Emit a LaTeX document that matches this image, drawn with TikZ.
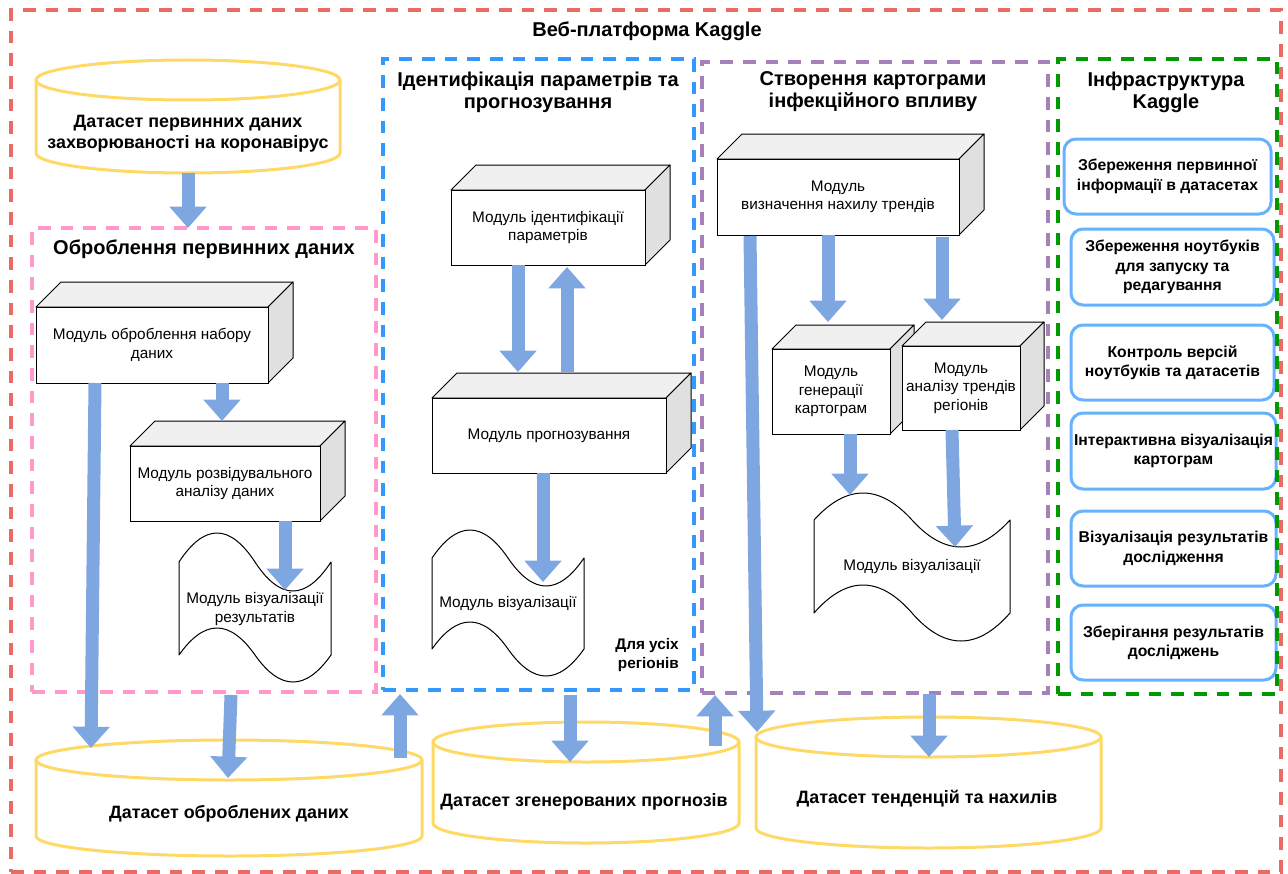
\documentclass[tikz,border=0pt]{standalone}
\usepackage{fontspec}
\setmainfont{Liberation Sans}
\usetikzlibrary{arrows.meta,calc}
\definecolor{redd}{HTML}{EA6B66}
\definecolor{pinkd}{HTML}{FF99CC}
\definecolor{blued}{HTML}{3399FF}
\definecolor{purpled}{HTML}{A680B8}
\definecolor{greend}{HTML}{009900}
\definecolor{yellowc}{HTML}{FFD966}
\definecolor{arrowc}{HTML}{7EA6E0}
\definecolor{boxb}{HTML}{66B2FF}
\definecolor{cubetop}{HTML}{F0F0F0}
\definecolor{cubeside}{HTML}{E0E0E0}

\newcommand{\dashedbox}[6]{%
  \node[dbox, draw=#2, minimum width={(#5-#3)*0.75pt}, minimum height={(#6-#4)*0.75pt}] (#1) at ({(#3+#5)/2},{(#4+#6)/2}) {};}
\newcommand{\cubemod}[7]{%
  \filldraw[cubeface, fill=cubetop] (#2,#3) -- ({#2+#6},{#3-#6}) -- ({#4+#6},{#3-#6}) -- (#4,#3) -- cycle;
  \filldraw[cubeface, fill=cubeside] (#4,#3) -- ({#4+#6},{#3-#6}) -- ({#4+#6},{#5-#6}) -- (#4,#5) -- cycle;
  \node[modbox, minimum width={(#4-#2)*0.75pt}, minimum height={(#5-#3)*0.75pt}] (#1) at ({(#2+#4)/2},{(#3+#5)/2}) {#7};}
\newcommand{\cylmod}[6]{% name, L, R, cyTop, cyBot, ry
  \pgfmathsetmacro\cyCx{(#2+#3)/2}\pgfmathsetmacro\cyRx{(#3-#2)/2}
  \fill[white] (#2,#4) -- (#2,#5) arc[start angle=180,end angle=0,x radius=\cyRx,y radius=#6] -- (#3,#4) -- cycle;
  \draw[cylst] (#2,#4) -- (#2,#5) arc[start angle=180,end angle=0,x radius=\cyRx,y radius=#6] -- (#3,#4);
  \filldraw[cylst, fill=white] (\cyCx,#4) ellipse[x radius=\cyRx, y radius=#6];
  \node[inner sep=0, outer sep=0, minimum width={(#3-#2)*0.75pt}, minimum height={(#5-#4+2*#6)*0.75pt}] (#1) at (\cyCx,{(#4+#5)/2}) {};}
\newcommand{\tapemod}[7]{% name, L, R, yt, At, yb, Ab
  \pgfmathsetmacro\tpW{#3-#2}
  \pgfmathsetmacro\tpXa{#2+\tpW/6}\pgfmathsetmacro\tpXb{#2+\tpW/3}
  \pgfmathsetmacro\tpXm{#2+\tpW/2}\pgfmathsetmacro\tpXc{#2+2*\tpW/3}
  \pgfmathsetmacro\tpXd{#2+5*\tpW/6}
  \pgfmathsetmacro\tpYa{#4-4*#5/3}\pgfmathsetmacro\tpYb{#4+4*#5/3}
  \pgfmathsetmacro\tpYc{#6-4*#7/3}\pgfmathsetmacro\tpYd{#6+4*#7/3}
  \filldraw[cubeface, fill=white] (#2,#4) .. controls (\tpXa,\tpYa) and (\tpXb,\tpYa) .. (\tpXm,#4) .. controls (\tpXc,\tpYb) and (\tpXd,\tpYb) .. (#3,#4) -- (#3,#6) .. controls (\tpXd,\tpYd) and (\tpXc,\tpYd) .. (\tpXm,#6) .. controls (\tpXb,\tpYc) and (\tpXa,\tpYc) .. (#2,#6) -- cycle;
  \node[inner sep=0, outer sep=0, minimum width={(#3-#2)*0.75pt}, minimum height={(#6+#7-#4+#5)*0.75pt}] (#1) at (\tpXm,{(#4-#5+#6+#7)/2}) {};}

\begin{document}
\begin{tikzpicture}[x=0.75pt,y=-0.75pt,
  dbox/.style={line width=2.4pt, dash pattern=on 9.5pt off 7.5pt, inner sep=0, outer sep=0},
  cubeface/.style={draw=black, line width=0.75pt, line join=round},
  modtext/.style={font=\fontsize{11.5}{13.75}\selectfont, align=center, inner sep=0},
  modbox/.style={modtext, draw=black, fill=white, line width=0.75pt, outer sep=0},
  cylst/.style={draw=yellowc, line width=2.25pt},
  cyltext/.style={font=\bfseries\fontsize{13.4}{15.75}\selectfont, align=center, inner sep=0},
  ttltext/.style={font=\bfseries\fontsize{15}{16.5}\selectfont, align=center, inner sep=0},
  kbox/.style={draw=boxb, line width=2.25pt, rounded corners=9pt, fill=white, align=center,
     font=\bfseries\fontsize{11.8}{14.5}\selectfont, inner sep=0, outer sep=0},
  barrow/.style={draw=arrowc, line width=9.75pt, -{Triangle[width=27pt,length=16pt]}}]
\useasboundingbox (0,0) rectangle (1288,874);

% outer platform frame
\dashedbox{web}{redd}{11}{10}{1281}{872}

% cylinders
\cylmod{dsPrimB}{36}{340}{80}{153}{20}
\cylmod{dsProcB}{36}{422}{760}{836}{20}
\cylmod{dsForeB}{433}{739}{742}{823}{20}
\cylmod{dsTrendB}{756}{1101}{737}{828}{20}

% section frames
\dashedbox{boxProc}{pinkd}{32}{228}{376}{692}
\dashedbox{boxIdent}{blued}{383}{59}{694}{690}
\dashedbox{boxTrend}{purpled}{702}{62}{1048}{693}

% Kaggle infrastructure boxes
\node[kbox, minimum width={207*0.75pt}, minimum height={75*0.75pt}] (k1) at (1167.5,176.5) {Збереження первинної\\інформації в датасетах};
\node[kbox, minimum width={203*0.75pt}, minimum height={76*0.75pt}] (k2) at (1172.5,267) {Збереження ноутбуків\\для запуску та\\редагування};
\node[kbox, minimum width={203*0.75pt}, minimum height={75*0.75pt}] (k3) at (1172.5,362.5) {Контроль версій\\ноутбуків та датасетів};
\node[kbox, minimum width={205*0.75pt}, minimum height={76*0.75pt}] (k4) at (1173.5,451) {Інтерактивна візуалізація\\картограм};
\node[kbox, minimum width={205*0.75pt}, minimum height={75*0.75pt}] (k5) at (1173.5,548.5) {Візуалізація результатів\\дослідження};
\node[kbox, minimum width={205*0.75pt}, minimum height={75*0.75pt}] (k6) at (1173.5,642.5) {Зберігання результатів\\досліджень};
\dashedbox{boxInfra}{greend}{1058}{59}{1277}{694}

% modules
\cubemod{c1}{36}{307}{268}{383}{25}{Модуль оброблення набору\\даних}
\cubemod{c2}{130}{446}{320}{521}{25}{Модуль розвідувального\\аналізу даних}
\tapemod{vis1}{179}{331}{562}{29}{655}{27}
\cubemod{c3}{451}{190}{645}{265}{25}{Модуль ідентифікації\\параметрів}
\cubemod{c4}{432}{398}{666}{473}{25}{Модуль прогнозування}
\tapemod{vis2}{432}{584}{558}{28}{649}{27}
\cubemod{c5}{717}{159}{959}{235}{25}{Модуль\\визначення нахилу трендів}
\cubemod{c6}{772}{349}{890}{434}{24}{Модуль\\генерації\\картограм}
\cubemod{c7}{902}{346}{1020}{430}{24}{Модуль\\аналізу трендів\\регіонів}
\tapemod{vis3}{814}{1010}{520}{27}{613}{28}

% texts
\node[ttltext] (ttl) at (647,31) {Веб-платформа Kaggle};
\node[ttltext] (tProc) at (204,249) {Оброблення первинних даних};
\node[ttltext] (tIdent) at (538,92) {Ідентифікація параметрів та\\прогнозування};
\node[ttltext] (tTrend) at (873,92) {Створення картограми\\інфекційного впливу};
\node[ttltext] (tInfra) at (1166,92) {Інфраструктура\\Kaggle};
\node[cyltext] (dsPrim) at (188,133.5) {Датасет первинних даних\\захворюваності на коронавірус};
\node[cyltext] (dsProc) at (229,814) {Датасет оброблених даних};
\node[cyltext] (dsFore) at (584,802) {Датасет згенерованих прогнозів};
\node[cyltext] (dsTrend) at (927,799) {Датасет тенденцій та нахилів};
\node[modtext] (vis1t) at (255,609) {Модуль візуалізації\\результатів};
\node[modtext] (vis2t) at (508,604) {Модуль візуалізації};
\node[modtext] (vis3t) at (912,567) {Модуль візуалізації};
\node[modtext, font=\bfseries\fontsize{11.5}{13.75}\selectfont, align=right, anchor=east] (allReg) at (679,655) {Для усіх\\регіонів};

% arrows
\draw[barrow] (dsPrimB.south) -- ($(boxProc.north)+(-16,0)$);
\draw[barrow] ($(c1.south west)+(186,0)$) -- ($(c2.north west)+(92,-25)$);
\draw[barrow] ($(c1.south west)+(59,0)$) -- ($(dsProcB.north west)+(55,8)$);
\draw[barrow] ($(c2.south west)+(155,0)$) -- ($(vis1.north west)+(106,57)$);
\draw[barrow] ($(boxProc.south)+(27,3)$) -- ($(dsProcB.north west)+(192,38)$);
\draw[barrow] ($(dsProcB.north west)+(364,18)$) -- ($(boxIdent.south west)+(17,4)$);
\draw[barrow] ($(c3.south west)+(67,0)$) -- ($(c4.north west)+(86,-26)$);
\draw[barrow] ($(c4.north west)+(135,-26)$) -- ($(c3.south west)+(116,2)$);
\draw[barrow] ($(c4.south west)+(111,0)$) -- ($(vis2.north west)+(111,52)$);
\draw[barrow] ($(boxIdent.south west)+(187,5)$) -- ($(dsForeB.north west)+(137,40)$);
\draw[barrow] ($(dsForeB.north west)+(282,24)$) -- ($(boxTrend.south west)+(13,2)$);
\draw[barrow] ($(c5.south west)+(33,1)$) -- ($(dsTrendB.north west)+(1,15)$);
\draw[barrow] ($(c5.south west)+(111,0)$) -- ($(c6.north west)+(56,-27)$);
\draw[barrow] ($(c5.south west)+(225,2)$) -- ($(c7.north west)+(40,-26)$);
\draw[barrow] ($(c6.south west)+(78,0)$) -- ($(vis3.north west)+(36,2)$);
\draw[barrow] ($(c7.south west)+(50,0)$) -- ($(vis3.north west)+(141,54)$);
\draw[barrow] ($(boxTrend.south west)+(227,1)$) -- ($(dsTrendB.north west)+(173,40)$);
\end{tikzpicture}
\end{document}
